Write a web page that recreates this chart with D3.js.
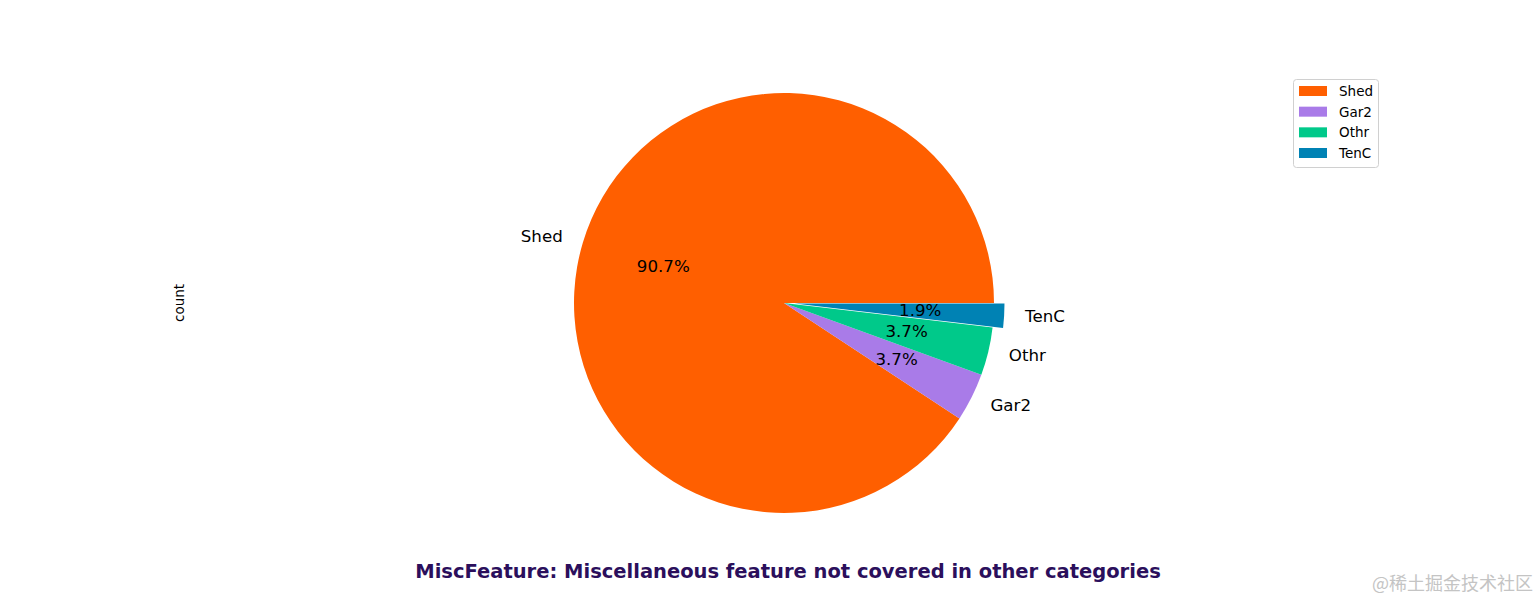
<!DOCTYPE html>
<html><head><meta charset="utf-8">
<script src="https://cdn.jsdelivr.net/npm/d3@7"></script>
<style>html,body{margin:0;padding:0;background:#fff;}svg{display:block;font-family:"DejaVu Sans",sans-serif;}</style>
</head><body>
<svg id="c" width="1539" height="600"></svg>
<script>
const categories = ["Shed", "Gar2", "Othr", "TenC"];
const counts = [49, 2, 2, 1];
const explode = [0, 0, 0, 0.05];
const colors = ["#FF5F00", "#A97BE8", "#00C98A", "#0082B4"];
const titleText = "MiscFeature: Miscellaneous feature not covered in other categories";
const yLabel = "count";
const watermark = "@稀土掘金技术社区";

const svg = d3.select("#c");
const cx = 784, cy = 303, R = 210;
const data = categories.map((c, i) => ({name: c, value: counts[i], explode: explode[i], color: colors[i]}));
const total = d3.sum(counts);
const pie = d3.pie().value(d => d.value).sort(null).startAngle(Math.PI / 2).endAngle(Math.PI / 2 - 2 * Math.PI);
const arcs = pie(data);
const arc = d3.arc().innerRadius(0).outerRadius(R);
const g = svg.append("g").attr("transform", `translate(${cx},${cy})`);

function pos(a, r) { return [Math.sin(a) * r, -Math.cos(a) * r]; }

arcs.forEach(d => {
  const mid = (d.startAngle + d.endAngle) / 2;
  const [ox, oy] = pos(mid, d.data.explode * R);
  const wg = g.append("g").attr("transform", `translate(${ox},${oy})`);
  wg.append("path").attr("d", arc(d)).attr("fill", d.data.color);
  const [lx, ly] = pos(mid, 1.1 * R);
  wg.append("text").attr("x", lx).attr("y", ly - 0.7)
    .attr("text-anchor", lx > 0 ? "start" : "end")
    .attr("dominant-baseline", "central")
    .attr("font-size", 16.67).attr("fill", "#000").text(d.data.name);
  const [px, py] = pos(mid, 0.6 * R);
  wg.append("text").attr("x", px).attr("y", py - 0.5)
    .attr("text-anchor", "middle").attr("dominant-baseline", "central")
    .attr("font-size", 16.67).attr("fill", "#000")
    .text((d.data.value / total * 100).toFixed(1) + "%");
});

// y label
svg.append("text").attr("transform", "translate(184,303) rotate(-90)")
  .attr("text-anchor", "middle").attr("font-size", 13.5).attr("fill", "#000").text(yLabel);

// legend
const lg = svg.append("g").attr("transform", "translate(1293,79)");
lg.append("rect").attr("x", 0.5).attr("y", 0.5).attr("width", 85).attr("height", 88)
  .attr("rx", 3).attr("fill", "#fff").attr("fill-opacity", 0.8).attr("stroke", "#d0d0d0");
const lyS = d3.scalePoint().domain(categories).range([12, 74]);
categories.forEach((c, i) => {
  lg.append("rect").attr("x", 6).attr("y", lyS(c) - 5).attr("width", 28).attr("height", 10).attr("fill", colors[i]);
  lg.append("text").attr("x", 46).attr("y", lyS(c)).attr("dominant-baseline", "central")
    .attr("font-size", 13.5).attr("fill", "#000").text(c);
});

// title
svg.append("text").attr("x", 788).attr("y", 578).attr("text-anchor", "middle")
  .attr("font-size", 19.5).attr("font-weight", "bold").attr("fill", "#2B0F5C").text(titleText);

// watermark
svg.append("text").attr("x", 1533).attr("y", 590).attr("text-anchor", "end")
  .attr("font-family", "Noto Sans CJK SC, sans-serif").attr("font-size", 18).attr("fill", "#c4c4c4").text(watermark);
</script>
</body></html>
